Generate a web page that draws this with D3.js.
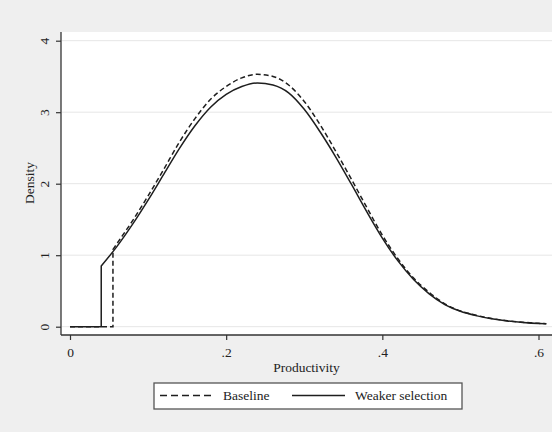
<!DOCTYPE html>
<html>
<head>
<meta charset="utf-8">
<script src="https://cdn.jsdelivr.net/npm/d3@7/dist/d3.min.js"></script>
<style>
  html, body { margin: 0; padding: 0; background: #efefef; }
  svg { display: block; }
  text { font-family: "Liberation Serif", "Times New Roman", serif; fill: #222; }
</style>
</head>
<body>
<svg id="chart" width="552" height="432"></svg>
<script>
// ---- data ----
const xTicks = [0, 0.2, 0.4, 0.6];
const xTickLabels = ["0", ".2", ".4", ".6"];
const yTicks = [0, 1, 2, 3, 4];
const yTickLabels = ["0", "1", "2", "3", "4"];

// Weaker selection (solid): zero up to the cutoff, then the density
const weakerCutoff = 0.04;
const weakerX = [0.04,0.06,0.08,0.10,0.12,0.14,0.16,0.18,0.20,0.22,0.24,0.26,0.28,0.30,0.32,0.34,0.36,0.38,0.40,0.42,0.44,0.46,0.48,0.50,0.52,0.54,0.56,0.58,0.60,0.61];
const weakerY = [0.85,1.12,1.43,1.77,2.13,2.49,2.81,3.07,3.25,3.36,3.41,3.38,3.27,3.04,2.73,2.38,2.00,1.61,1.24,0.92,0.66,0.46,0.31,0.215,0.155,0.11,0.08,0.06,0.045,0.04];

// Baseline (dashed)
const baselineCutoff = 0.055;
const baselineX = [0.055,0.06,0.08,0.10,0.12,0.14,0.16,0.18,0.20,0.22,0.24,0.26,0.28,0.30,0.32,0.34,0.36,0.38,0.40,0.42,0.44,0.46,0.48,0.50,0.52,0.54,0.56,0.58,0.60,0.61];
const baselineY = [1.08,1.16,1.48,1.83,2.20,2.58,2.91,3.18,3.36,3.48,3.53,3.50,3.38,3.15,2.83,2.46,2.07,1.67,1.28,0.95,0.68,0.48,0.32,0.22,0.16,0.115,0.083,0.062,0.047,0.041];

const legendLabels = ["Baseline", "Weaker selection"];

// ---- layout ----
const svg = d3.select("#chart");
const plot = { left: 61, right: 552, top: 32, bottom: 335 };
const x = d3.scaleLinear().domain([0, 0.6]).range([70, 538.5]);
const y = d3.scaleLinear().domain([0, 4]).range([326.7, 40.7]);
const ink = "#1e1e1e";

svg.append("rect").attr("width", 552).attr("height", 432).attr("fill", "#efefef");
svg.append("rect")
  .attr("x", plot.left).attr("y", plot.top)
  .attr("width", plot.right - plot.left).attr("height", plot.bottom - plot.top)
  .attr("fill", "#ffffff");

// gridlines
svg.append("g").selectAll("line").data(yTicks).join("line")
  .attr("x1", plot.left + 1).attr("x2", plot.right)
  .attr("y1", d => y(d)).attr("y2", d => y(d))
  .attr("stroke", "#e6e6e6").attr("stroke-width", 1);

// clip
svg.append("clipPath").attr("id", "clip").append("rect")
  .attr("x", plot.left).attr("y", plot.top)
  .attr("width", plot.right - plot.left).attr("height", plot.bottom - plot.top);

const curves = svg.append("g").attr("clip-path", "url(#clip)");
const smooth = d3.line().x(d => x(d[0])).y(d => y(d[1])).curve(d3.curveMonotoneX);
const straight = d3.line().x(d => x(d[0])).y(d => y(d[1]));

function drawSeries(cutoff, xs, ys, dash) {
  const stepPts = [[0, 0], [cutoff, 0], [cutoff, ys[0]]];
  const pts = xs.map((v, i) => [v, ys[i]]);
  const p = straight(stepPts) + smooth(pts).replace(/^M/, "L");
  curves.append("path").attr("d", p)
    .attr("fill", "none").attr("stroke", ink).attr("stroke-width", 1.5)
    .attr("stroke-dasharray", dash);
}
drawSeries(baselineCutoff, baselineX, baselineY, "5,3");
drawSeries(weakerCutoff, weakerX, weakerY, null);

// axes
const yAxis = d3.axisLeft(y).tickValues(yTicks).tickFormat((d, i) => yTickLabels[i]).tickSize(5).tickSizeOuter(0);
const gy = svg.append("g").attr("transform", `translate(${plot.left},0)`).call(yAxis);
gy.select(".domain").attr("d", `M0,${plot.top}V${plot.bottom}`);
const xAxis = d3.axisBottom(x).tickValues(xTicks).tickFormat((d, i) => xTickLabels[i]).tickSize(5).tickSizeOuter(0);
const gx = svg.append("g").attr("transform", `translate(0,${plot.bottom})`).call(xAxis);
gx.select(".domain").attr("d", `M${plot.left},0H${plot.right}`);

[gx, gy].forEach(g => {
  g.selectAll(".domain").attr("stroke", "#333").attr("stroke-width", 1.3);
  g.selectAll(".tick line").attr("stroke", "#333").attr("stroke-width", 1.2);
  g.selectAll("text").attr("font-family", "Liberation Serif").attr("font-size", 13.5).attr("fill", "#222");
});
gx.selectAll(".tick text").attr("dy", null).attr("y", 22);
gy.selectAll(".tick text")
  .attr("x", null).attr("dy", null)
  .attr("text-anchor", "middle")
  .attr("transform", "translate(-13,0) rotate(-90)")
  .attr("y", 0).attr("dy", "0.1em");

// axis titles
svg.append("text").attr("x", (plot.left + plot.right) / 2).attr("y", 372)
  .attr("text-anchor", "middle").attr("font-size", 13.5).text("Productivity");
svg.append("text").attr("transform", "translate(34,183) rotate(-90)")
  .attr("text-anchor", "middle").attr("font-size", 13.5).text("Density");

// legend
const lg = svg.append("g");
lg.append("rect").attr("x", 154).attr("y", 383).attr("width", 308).attr("height", 26)
  .attr("fill", "#ffffff").attr("stroke", "#555").attr("stroke-width", 1.3);
lg.append("line").attr("x1", 160).attr("x2", 214).attr("y1", 395.5).attr("y2", 395.5)
  .attr("stroke", ink).attr("stroke-width", 1.5).attr("stroke-dasharray", "7,4");
lg.append("text").attr("x", 223).attr("y", 400).attr("font-size", 13.5).text(legendLabels[0]);
lg.append("line").attr("x1", 292).attr("x2", 345).attr("y1", 395.5).attr("y2", 395.5)
  .attr("stroke", ink).attr("stroke-width", 1.5);
lg.append("text").attr("x", 355).attr("y", 400).attr("font-size", 13.5).text(legendLabels[1]);
</script>
</body>
</html>
